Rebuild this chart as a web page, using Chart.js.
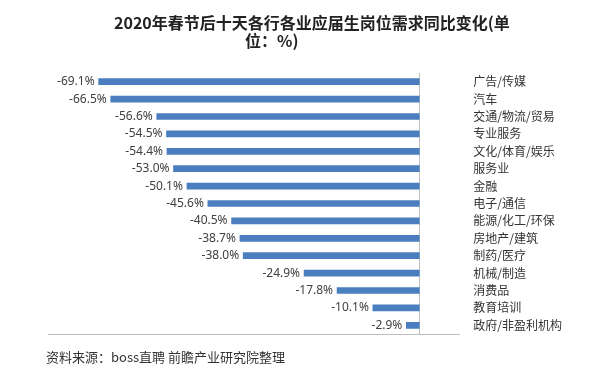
<!DOCTYPE html>
<html>
<head>
<meta charset="utf-8">
<script src="https://cdn.jsdelivr.net/npm/chart.js@4/dist/chart.umd.min.js"></script>
<style>
  html, body { margin: 0; padding: 0; background: #fff; }
  #wrap { width: 593px; height: 376px; position: relative; }
</style>
</head>
<body>
<div id="wrap"><canvas id="industry_chart"></canvas></div>
<script>
// categories, top to bottom
var industries = [
    '广告/传媒', '汽车', '交通/物流/贸易', '专业服务', '文化/体育/娱乐',
    '服务业', '金融', '电子/通信', '能源/化工/环保', '房地产/建筑',
    '制药/医疗', '机械/制造', '消费品', '教育培训', '政府/非盈利机构'
];
// year-on-year change in demand, %
var yoy_change = [
    -69.1, -66.5, -56.6, -54.5, -54.4,
    -53.0, -50.1, -45.6, -40.5, -38.7,
    -38.0, -24.9, -17.8, -10.1, -2.9
];
var title_lines = ['2020年春节后十天各行各业应届生岗位需求同比变化(单', '位：%)'];
var source_text = '资料来源：boss直聘 前瞻产业研究院整理';

/*
 * Draws the value at the left end of every bar, plus title and source note
 */
var textPlugin = {
    id: 'textPlugin',
    afterDatasetsDraw: function(chart) {
        const ctx = chart.ctx;
        const meta = chart.getDatasetMeta(0);
        ctx.save();
        ctx.fillStyle = '#404040';
        ctx.font = '12px "Noto Sans", sans-serif';
        ctx.textAlign = 'right';
        ctx.textBaseline = 'middle';
        meta.data.forEach(function(bar, i) {
            ctx.fillText(yoy_change[i].toFixed(1) + '%', bar.x - 4, bar.y);
        });

        ctx.fillStyle = '#222';
        ctx.font = 'bold 16px "Noto Sans CJK SC", sans-serif';
        ctx.textAlign = 'left';
        ctx.fillText(title_lines[0], 114, 23);
        ctx.fillText(title_lines[1], 245, 41);

        ctx.fillStyle = '#333';
        ctx.font = '13px "Noto Sans CJK SC", sans-serif';
        ctx.fillText(source_text, 46, 357);
        ctx.restore();
    }
};

const data = {
    labels: industries,
    datasets: [{
        label: '同比变化',
        backgroundColor: '#4a7ebf',
        data: yoy_change,
        barThickness: 6,
    }]
};

const config = {
    type: 'bar',
    data: data,
    options: {
        indexAxis: 'y',
        responsive: true,
        maintainAspectRatio: false,
        animation: false,
        layout: {
            padding: { left: 48, right: 25, top: 73, bottom: 42 }
        },
        scales: {
            x: {
                min: -80,
                max: 8.5,
                ticks: { display: false, stepSize: 10 },
                grid: {
                    drawTicks: false,
                    color: function(c) { return c.tick && c.tick.value === 0 ? '#bfbfbf' : 'rgba(0,0,0,0)'; }
                },
                border: { display: true, color: '#bfbfbf' }
            },
            y: {
                position: 'right',
                grid: { display: false },
                border: { display: false },
                ticks: {
                    autoSkip: false,
                    color: '#333',
                    padding: 6,
                    font: { family: '"Noto Sans CJK SC", sans-serif', size: 12 }
                }
            }
        },
        plugins: {
            legend: { display: false },
            tooltip: { enabled: false }
        }
    },
    plugins: [textPlugin]
};

const myChart = new Chart(document.getElementById('industry_chart'), config);
</script>
</body>
</html>
